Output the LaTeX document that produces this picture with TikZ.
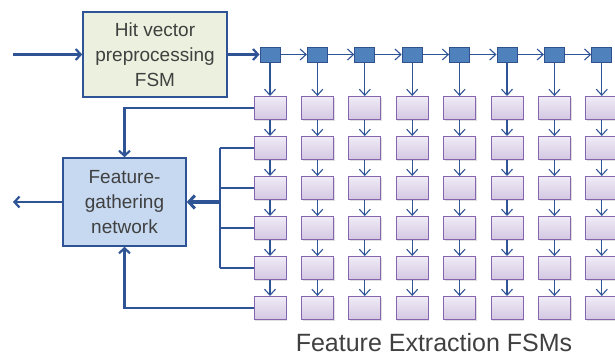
\documentclass[tikz,border=0pt]{standalone}
\usepackage{fontspec}
\setmainfont{Liberation Sans}
\usetikzlibrary{arrows.meta,shadows}
\definecolor{lineblue}{HTML}{2F5496}
\definecolor{sqfill}{HTML}{4F81BD}
\definecolor{sqdraw}{HTML}{2F528F}
\definecolor{hitfill}{HTML}{EBF1DE}
\definecolor{gathfill}{HTML}{C6D9F1}
\definecolor{purtop}{HTML}{F0ECF6}
\definecolor{purbot}{HTML}{D3C7E2}
\definecolor{purdraw}{HTML}{8465AE}
\definecolor{txtgray}{HTML}{404040}
\tikzset{
  bigbox/.style={draw=lineblue, line width=1.6pt, minimum width=#1, align=center,
    text=txtgray, font=\fontsize{19}{25}\selectfont, inner sep=0pt},
  sqbox/.style={draw=sqdraw, fill=sqfill, line width=1pt, minimum width=20pt, minimum height=15pt, inner sep=0pt},
  fsmbox/.style={draw=purdraw, line width=1pt, top color=purtop, bottom color=purbot,
    minimum width=32pt, minimum height=23pt, inner sep=0pt,
    drop shadow={shadow xshift=1.2pt, shadow yshift=-1.2pt, opacity=0.25}},
  thinarr/.style={draw=lineblue, line width=1.1pt, -{Straight Barb[length=6pt,width=11pt,line width=1.1pt]}},
  thickarr/.style={draw=lineblue, line width=2.6pt, -{Straight Barb[length=5pt,width=11pt,line width=2.2pt]}},
  busline/.style={draw=lineblue, line width=2.4pt},
  fatarr/.style={draw=lineblue, line width=4pt, -{Straight Barb[length=6pt,width=13pt,line width=3pt]}},
}
\begin{document}
\begin{tikzpicture}[x=1pt,y=-1pt]
\useasboundingbox (0,0) rectangle (615,356);
\clip (0,0) rectangle (615,356);
% main boxes
\node[bigbox=144pt, fill=hitfill, minimum height=85pt] (hit) at (155,54.5) {Hit vector\\preprocessing\\FSM};
\node[bigbox=123pt, fill=gathfill, minimum height=88pt] (gath) at (124.5,202) {Feature-\\gathering\\network};
\coordinate (in) at (13,54.5);
\coordinate (out) at (13,202);
\draw[thickarr] (in) -- (hit.west);
\draw[thickarr] (gath.west) -- (out);
% columns
\foreach \c in {1,...,8} {
  \pgfmathsetmacro{\cx}{270+47.4*(\c-1)}
  \node[sqbox] (s\c) at (\cx,54.5) {};
  \foreach \r in {1,...,6} {
    \pgfmathsetmacro{\ry}{108+40*(\r-1)}
    \node[fsmbox] (f\c-\r) at (\cx,\ry) {};
  }
}
\draw[thickarr] (hit.east) -- (s1.west);
\foreach \c [count=\n from 2] in {1,...,7} {
  \draw[thinarr] (s\c.east) -- (s\n.west);
}
\foreach \c in {1,...,8} {
  \draw[thinarr] (s\c.south) -- (f\c-1.north);
  \foreach \r [count=\n from 2] in {1,...,5} {
    \draw[thinarr] (f\c-\r.south) -- (f\c-\n.north);
  }
}
% connections to gathering network
\draw[thickarr] (f1-1.west) -| (gath.north);
\draw[thickarr] (f1-6.west) -| (gath.south);
\coordinate (busT) at (220,147.5);
\coordinate (busB) at (220,268);
\coordinate (busM) at (220,202);
\draw[busline] (busT) -- (busB);
\foreach \r in {2,...,5} {
  \draw[busline] (f1-\r.west) -- (f1-\r.west -| busT);
}
\draw[fatarr] (busM) -- (gath.east);
% label
\node[text=txtgray, font=\fontsize{25}{30}\selectfont, inner sep=0pt] (lbl) at (434,343) {Feature Extraction FSMs};
\end{tikzpicture}
\end{document}
